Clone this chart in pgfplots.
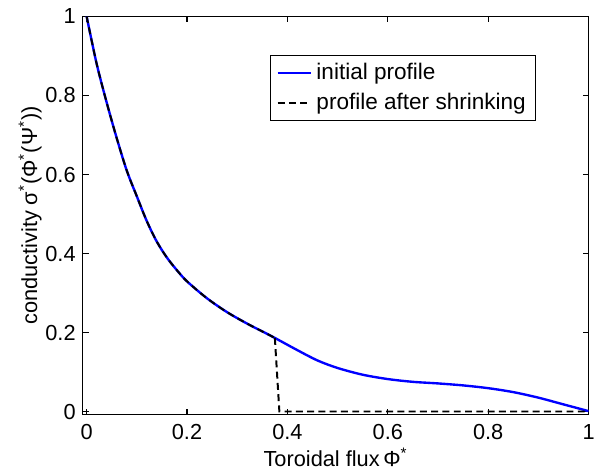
\documentclass[border=0pt]{standalone}
\usepackage{fontspec}
\setmainfont{Liberation Sans}
\usepackage{pgfplots}
\pgfplotsset{compat=1.18}
\pgfplotstableread{
x y
0 1.0
0.02 0.880
0.04 0.782
0.06 0.692
0.08 0.610
0.10 0.545
0.12 0.482
0.14 0.430
0.16 0.390
0.18 0.358
0.20 0.330
0.24 0.287
0.28 0.252
0.32 0.223
0.36 0.197
0.375 0.187
0.42 0.156
0.46 0.130
0.50 0.111
0.55 0.094
0.60 0.083
0.65 0.076
0.70 0.072
0.75 0.067
0.80 0.060
0.85 0.050
0.90 0.036
0.95 0.019
1.00 0.002
}\initial
\pgfplotstableread{
x y
0 1.0
0.02 0.880
0.04 0.782
0.06 0.692
0.08 0.610
0.10 0.545
0.12 0.482
0.14 0.430
0.16 0.390
0.18 0.358
0.20 0.330
0.24 0.287
0.28 0.252
0.32 0.223
0.36 0.197
0.375 0.187
}\shrunkA
\pgfplotstableread{
x y
0.375 0.187
0.384 0.001
1.0 0.001
}\shrunkB
\begin{document}
\begin{tikzpicture}
\begin{axis}[
  at={(0,0)}, anchor=south west,
  scale only axis, width=255.75pt, height=201.35pt,
  xmin=-0.008, xmax=1, ymin=-0.007, ymax=1,
  xtick={0,0.2,0.4,0.6,0.8,1}, ytick={0,0.2,0.4,0.6,0.8,1},
  tick align=inside, major tick length=3pt,
  axis line style={line width=0.8pt},
  every tick/.style={black,line width=0.6pt},
  /pgf/number format/assume math mode=true,
  ticklabel style={font=\fontsize{11}{13}\selectfont},
  xticklabel style={yshift=-1.5pt},
  xlabel={Toroidal flux\,Φ\textsuperscript{*}},
  ylabel={conductivity σ\textsuperscript{*}(Φ\textsuperscript{*}(Ψ\textsuperscript{*}))},
  label style={font=\fontsize{11}{13}\selectfont},
  xlabel style={at={(axis description cs:0.5,-0.131)}, anchor=base},
  ylabel style={at={(axis description cs:-0.0899,0.5)}, anchor=base, rotate=0},
  legend style={at={(axis description cs:0.3705,0.903)}, anchor=north west,
    font=\fontsize{11.4}{13.7}\selectfont, draw=black, line width=0.5pt,
    inner xsep=3pt, inner ysep=2pt, row sep=1.3pt, cells={anchor=west}},
  legend cell align=left,
  legend image code/.code={\draw[#1] (0pt,0pt) -- (17pt,0pt);},
]
\addplot[blue, line width=1.2pt, smooth] table[x=x,y=y] {\initial};
\addlegendentry{initial profile}
\addplot[black, line width=1.0pt, smooth, dash pattern=on 3.5pt off 2.2pt] table[x=x,y=y] {\shrunkA};
\addlegendentry{profile after shrinking}
\addplot[black, line width=1.0pt, dash pattern=on 3.5pt off 2.2pt, forget plot] table[x=x,y=y] {\shrunkB};
\end{axis}
\pgfresetboundingbox
\useasboundingbox (-41.75pt,-29.98pt) rectangle (259.5pt,209.6pt);
\end{tikzpicture}
\end{document}
